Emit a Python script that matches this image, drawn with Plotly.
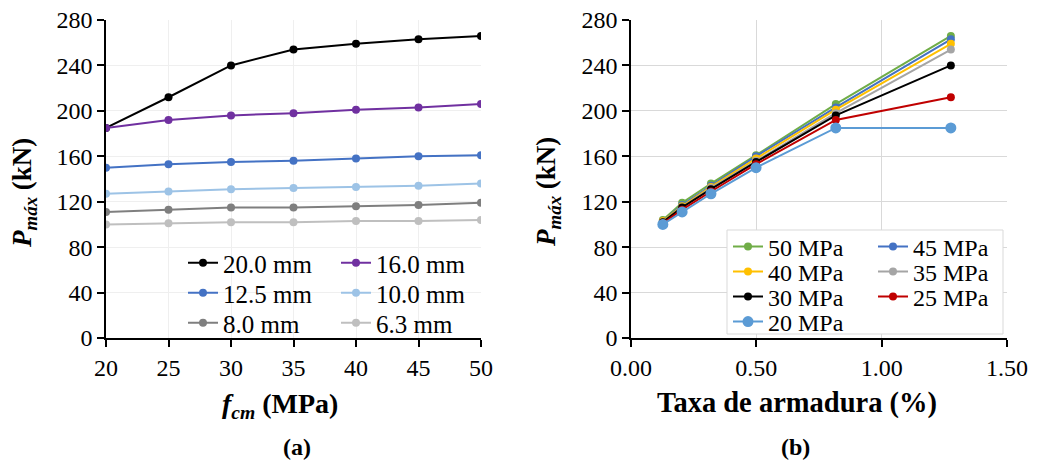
import plotly.graph_objects as go

# ---- data ----
fcm = [20, 25, 30, 35, 40, 45, 50]
diam_labels = ["20.0 mm", "16.0 mm", "12.5 mm", "10.0 mm", "8.0 mm", "6.3 mm"]
p_20mm = [185, 212, 240, 254, 259, 263, 266]
p_16mm = [185, 192, 196, 198, 201, 203, 206]
p_125mm = [150, 153, 155, 156, 158, 160, 161]
p_10mm = [127, 129, 131, 132, 133, 134, 136]
p_8mm = [111, 113, 115, 115, 116, 117, 119]
p_63mm = [100, 101, 102, 102, 103, 103, 104]

taxa = [0.127, 0.204, 0.319, 0.499, 0.817, 1.276]   # %, for 6.3, 8, 10, 12.5, 16, 20 mm
mpa_labels = ["50 MPa", "45 MPa", "40 MPa", "35 MPa", "30 MPa", "25 MPa", "20 MPa"]

left_series = [p_20mm, p_16mm, p_125mm, p_10mm, p_8mm, p_63mm]
left_colors = ["#000000", "#7030A0", "#4472C4", "#9DC3E6", "#7F7F7F", "#BFBFBF"]
right_colors = ["#70AD47", "#4472C4", "#FFC000", "#A5A5A5", "#000000", "#C00000", "#5B9BD5"]

FONT = "Liberation Serif"
W, H = 1037, 462


def px_x(p):
    return p / W


def px_y(p):
    return 1 - p / H


fig = go.Figure()

# left panel: legend rows (2 items per row)
left_rows = ["legend", "legend2", "legend3"]
for k, (name, ys, col) in enumerate(zip(diam_labels, left_series, left_colors)):
    fig.add_trace(go.Scatter(x=fcm, y=ys, name=name, mode="lines+markers",
                             line=dict(color=col, width=2),
                             marker=dict(color=col, size=8),
                             xaxis="x", yaxis="y", legend=left_rows[k // 2]))

# right panel: per fcm, values across diameters (ascending taxa: 6.3 ... 20 mm)
right_rows = ["legend4", "legend5", "legend6", "legend7"]
asc = left_series[::-1]
for k, (name, col) in enumerate(zip(mpa_labels, right_colors)):
    f = int(name.split()[0])
    i = fcm.index(f)
    ys = [s[i] for s in asc]
    fig.add_trace(go.Scatter(x=taxa, y=ys, name=name, mode="lines+markers",
                             line=dict(color=col, width=2),
                             marker=dict(color=col, size=11 if f == 20 else 8),
                             xaxis="x2", yaxis="y2", legend=right_rows[k // 2]))

tickfont = dict(family=FONT, size=24, color="black")
common = dict(showline=True, linecolor="black", linewidth=1.5, ticks="outside",
              ticklen=7, tickwidth=1.5, tickcolor="black", tickfont=tickfont,
              zeroline=False, mirror=False)

legends = {}
for name, yc in zip(left_rows, [263, 293, 323]):
    legends[name] = dict(orientation="h", x=px_x(183), y=px_y(yc), xanchor="left",
                         yanchor="middle", entrywidth=108, entrywidthmode="pixels",
                         bgcolor="rgba(0,0,0,0)", borderwidth=0,
                         font=dict(family=FONT, size=25, color="black"))
for name, yc in zip(right_rows, [247, 272, 297, 322]):
    legends[name] = dict(orientation="h", x=px_x(728), y=px_y(yc), xanchor="left",
                         yanchor="middle", entrywidth=100, entrywidthmode="pixels",
                         bgcolor="rgba(0,0,0,0)", borderwidth=0,
                         font=dict(family=FONT, size=24, color="black"))

fig.update_layout(
    width=W, height=H,
    margin=dict(l=0, r=0, t=0, b=0, autoexpand=False),
    paper_bgcolor="white", plot_bgcolor="white",
    font=dict(family=FONT, color="black"),
    xaxis=dict(domain=[px_x(106), px_x(481)], range=[20, 50], dtick=5,
               showgrid=True, gridcolor="#EFEFEF", anchor="y", **common),
    yaxis=dict(domain=[px_y(338), px_y(20)], range=[0, 280], dtick=40,
               showgrid=True, gridcolor="#EFEFEF", anchor="x", **common),
    xaxis2=dict(domain=[px_x(631), px_x(1007)], range=[0, 1.5], dtick=0.5,
                tickformat=".2f", showgrid=True, gridcolor="#D9D9D9", anchor="y2", **common),
    yaxis2=dict(domain=[px_y(338), px_y(20)], range=[0, 280], dtick=40,
                showgrid=True, gridcolor="#D9D9D9", anchor="x2", **common),
    showlegend=True,
    **legends,
)

# border box of the right legend
fig.add_shape(type="rect", xref="paper", yref="paper",
              x0=px_x(727), x1=px_x(1003), y0=px_y(334), y1=px_y(230),
              line=dict(color="#D9D9D9", width=1), fillcolor="white", layer="above")

ytitle = "<b><i>P</i><sub><i>máx</i></sub> (kN)</b>"
ann = [
    dict(text=ytitle, x=px_x(24), y=px_y(193), textangle=-90, size=27),
    dict(text=ytitle, x=px_x(548), y=px_y(192), textangle=-90, size=27),
    dict(text="<b><i>f</i><sub><i>cm</i></sub> (MPa)</b>", x=px_x(280), y=px_y(405), size=28),
    dict(text="<b>Taxa de armadura (%)</b>", x=px_x(797), y=px_y(403), size=28.5),
    dict(text="<b>(a)</b>", x=px_x(297), y=px_y(447), size=24),
    dict(text="<b>(b)</b>", x=px_x(795), y=px_y(447), size=24),
]
for a in ann:
    sz = a.pop("size")
    fig.add_annotation(xref="paper", yref="paper", showarrow=False,
                       xanchor="center", yanchor="middle",
                       font=dict(family=FONT, size=sz, color="black"), **a)

fig.write_html("out.html")
